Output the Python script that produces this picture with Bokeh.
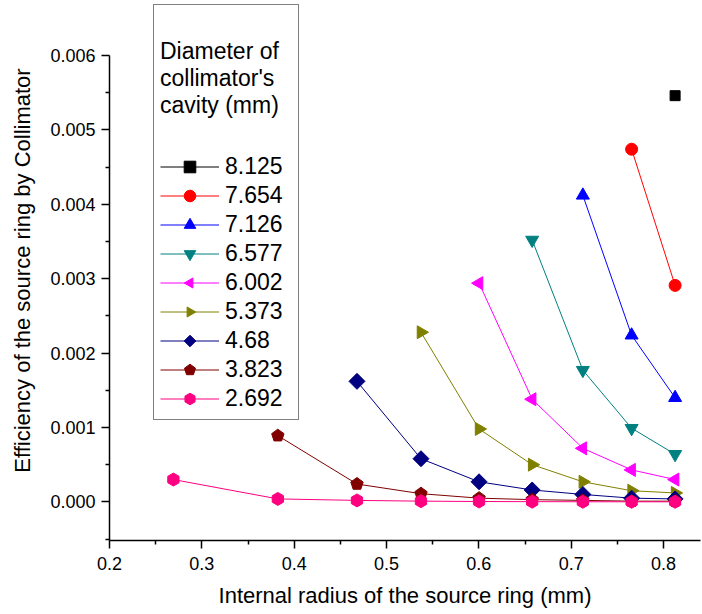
import numpy as np
from bokeh.plotting import figure
from bokeh.models import (ColumnDataSource, Legend, LegendItem, FixedTicker,
                          PrintfTickFormatter)
from bokeh.embed import file_html
from bokeh.resources import INLINE

# ---------------- data ----------------
diameters = ["8.125", "7.654", "7.126", "6.577", "6.002", "5.373", "4.68", "3.823", "2.692"]
radii = [0.2692, 0.3823, 0.468, 0.5373, 0.6002, 0.6577, 0.7126, 0.7654, 0.8125]

eff_8125 = [0.00546]
eff_7654 = [0.00474, 0.00291]
eff_7126 = [0.00412, 0.00224, 0.00140]
eff_6577 = [0.00352, 0.00177, 0.00099, 0.00064]
eff_6002 = [0.00294, 0.00138, 0.00072, 0.00043, 0.00030]
eff_5373 = [0.00228, 0.00098, 0.00050, 0.00027, 0.00015, 0.00012]
eff_468 = [0.00162, 0.00058, 0.00027, 0.00016, 0.00010, 0.00005, 0.00004]
eff_3823 = [0.00089, 0.00024, 0.00011, 0.00005, 0.00003, 0.00002, 0.00001, 0.00001]
eff_2692 = [0.00030, 0.00004, 0.00002, 0.00001, 0.000005, 0.000003, 0.000002, 0.000001, 0.000001]

series = [eff_8125, eff_7654, eff_7126, eff_6577, eff_6002, eff_5373, eff_468, eff_3823, eff_2692]

x_ticks = [0.2, 0.3, 0.4, 0.5, 0.6, 0.7, 0.8]
x_minor = [0.25, 0.35, 0.45, 0.55, 0.65, 0.75]
y_ticks = [0.0, 0.001, 0.002, 0.003, 0.004, 0.005, 0.006]
y_minor = [-0.0005, 0.0005, 0.0015, 0.0025, 0.0035, 0.0045, 0.0055]

# ---------------- styles ----------------
colors = ["#000000", "#FF0000", "#0000FF", "#008080", "#FF00FF", "#808000",
          "#000080", "#800000", "#FF0080"]
# (marker kind, marker/sides, size/radius, angle)
marker_spec = [
    ("scatter", "square", 10, 0),
    ("scatter", "circle", 12, 0),
    ("scatter", "triangle", 13, 0),
    ("scatter", "inverted_triangle", 13, 0),
    ("ngon", 3, 7.5, np.pi / 2),
    ("ngon", 3, 7.5, -np.pi / 2),
    ("ngon", 4, 8, 0.0),
    ("ngon", 5, 6.5, 0.0),
    ("ngon", 6, 6.5, 0.0),
]

FONT = "Liberation Sans"

p = figure(width=702, height=614, output_backend="svg", toolbar_location=None,
           x_range=(0.2, 0.84), y_range=(-0.000519, 0.006739),
           min_border_left=109, min_border_right=2, min_border_top=0,
           min_border_bottom=74)
p.outline_line_color = None
p.grid.visible = False

items = []
for d, eff, c, ms in zip(diameters, series, colors, marker_spec):
    xs = radii[len(radii) - len(eff):]
    src = ColumnDataSource(dict(x=xs, y=eff))
    lr = p.line("x", "y", source=src, line_color=c, line_width=1)
    kind, a1, a2, ang = ms
    if kind == "ngon":
        mr = p.ngon("x", "y", source=src, radius=a2, radius_units="screen",
                    n=a1, angle=ang, fill_color=c, line_color=c)
    else:
        mr = p.scatter("x", "y", source=src, marker=a1, size=a2,
                       fill_color=c, line_color=c)
    items.append(LegendItem(label=d, renderers=[lr, mr]))

# axes
p.xaxis.ticker = FixedTicker(ticks=x_ticks, minor_ticks=x_minor)
p.yaxis.ticker = FixedTicker(ticks=y_ticks, minor_ticks=y_minor)
p.yaxis.formatter = PrintfTickFormatter(format="%.3f")
p.xaxis.formatter = PrintfTickFormatter(format="%.1f")
p.yaxis.bounds = (-0.001, 0.006)
for ax in (p.xaxis, p.yaxis):
    ax.axis_line_width = 1.5
    ax.major_tick_line_width = 1.5
    ax.minor_tick_line_width = 1.5
    ax.major_tick_in = 0
    ax.major_tick_out = 8
    ax.minor_tick_in = 0
    ax.minor_tick_out = 4
    ax.major_label_text_font = FONT
    ax.major_label_text_font_size = "18px"
    ax.major_label_text_color = "black"
    ax.axis_label_text_font = FONT
    ax.axis_label_text_font_size = "22px"
    ax.axis_label_text_font_style = "normal"
    ax.axis_label_text_color = "black"
p.xaxis.major_label_standoff = 8
p.yaxis.major_label_standoff = 6
p.xaxis.axis_label = "Internal radius of the source ring (mm)"
p.yaxis.axis_label = "Efficiency of the source ring by Collimator"
p.xaxis.axis_label_standoff = 10
p.yaxis.axis_label_standoff = 12

legend = Legend(items=items, location=(44, 120),
                title="\nDiameter of  \ncollimator's\ncavity (mm)",
                title_text_font=FONT, title_text_font_size="23px",
                title_text_font_style="normal", title_text_color="black",
                title_text_line_height=1.26,
                title_standoff=33,
                label_text_font=FONT, label_text_font_size="23px",
                label_text_color="black",
                glyph_width=59, glyph_height=29, label_height=29,
                label_standoff=6, spacing=0, padding=6, margin=0,
                border_line_color="black", border_line_width=1,
                background_fill_color="white", background_fill_alpha=1)
p.add_layout(legend)

open("out.html", "w").write(file_html(p, INLINE))
